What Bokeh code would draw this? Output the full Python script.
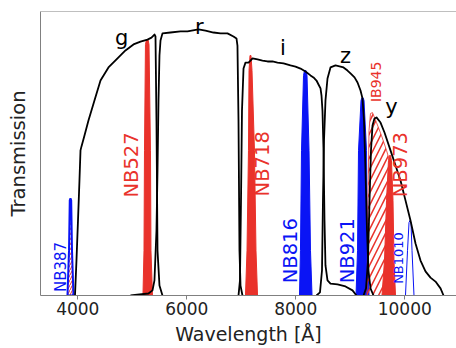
import math
from bokeh.plotting import figure
from bokeh.models import Range1d, Label, Span, FixedTicker
from bokeh.embed import file_html
from bokeh.resources import INLINE

# ---- broad-band transmission curves (wavelength in Angstrom, transmission) ----
g_wl = [3949, 3976, 4004, 4031, 4050, 4068, 4123, 4196, 4306, 4417, 4563, 4729,
        4875, 5022, 5151, 5279, 5352, 5407, 5426, 5444, 5463, 5499, 5554]
g_tr = [0, 0.123, 0.264, 0.405, 0.511, 0.525, 0.563, 0.616, 0.687, 0.757, 0.803, 0.835,
        0.863, 0.884, 0.894, 0.901, 0.908, 0.919, 0.912, 0.616, 0.158, 0.035, 0]

r_wl = [4967, 5297, 5371, 5407, 5444, 5463, 5481, 5499, 5518, 5554, 5701, 5885, 6013,
        6215, 6343, 6490, 6619, 6747, 6857, 6912, 6930, 6949, 6967, 6986, 7022]
r_tr = [0, 0.007, 0.018, 0.053, 0.229, 0.440, 0.687, 0.845, 0.898, 0.923, 0.926, 0.930, 0.930,
        0.937, 0.933, 0.926, 0.923, 0.923, 0.912, 0.905, 0.880, 0.616, 0.158, 0.035, 0]

i_wl = [6949, 6976, 6995, 7013, 7041, 7077, 7132, 7169, 7206, 7298, 7389, 7481, 7573, 7665,
        7775, 7903, 7995, 8087, 8178, 8270, 8325, 8380, 8417, 8454, 8472, 8490, 8509, 8527,
        8545, 8582, 8637, 8766, 8912, 9041, 9114]
i_tr = [0, 0.053, 0.335, 0.651, 0.799, 0.820, 0.820, 0.827, 0.835, 0.831, 0.827, 0.824, 0.824, 0.820,
        0.817, 0.810, 0.806, 0.799, 0.789, 0.775, 0.768, 0.757, 0.743, 0.729, 0.704, 0.651, 0.511, 0.264,
        0.106, 0.053, 0.042, 0.039, 0.032, 0.018, 0]

z_wl = [8380, 8444, 8481, 8499, 8518, 8545, 8582, 8637, 8729, 8821, 8876, 8949, 9004, 9078,
        9133, 9188, 9224, 9252, 9279, 9307, 9334, 9371, 9426]
z_tr = [0, 0.011, 0.088, 0.335, 0.546, 0.687, 0.764, 0.803, 0.810, 0.806, 0.803, 0.792, 0.782, 0.768,
        0.750, 0.722, 0.694, 0.616, 0.440, 0.229, 0.088, 0.025, 0]

y_wl = [9243, 9289, 9325, 9353, 9380, 9408, 9444, 9481, 9555, 9628, 9738, 9830, 9922, 10013,
        10105, 10197, 10289, 10380, 10472, 10564, 10656, 10711]
y_tr = [0, 0.025, 0.123, 0.335, 0.511, 0.599, 0.623, 0.627, 0.609, 0.574, 0.511, 0.458, 0.405, 0.335,
        0.264, 0.183, 0.123, 0.085, 0.063, 0.049, 0.025, 0]

# ---- narrow / intermediate band filters ----
nb387_wl = [3811, 3839, 3853, 3866, 3879, 3894, 3921]
nb387_tr = [0, 0.158, 0.335, 0.342, 0.335, 0.158, 0]
nb527_wl = [5196, 5215, 5224, 5242, 5261, 5288, 5307, 5334, 5343, 5371]
nb527_tr = [0, 0.158, 0.511, 0.884, 0.901, 0.901, 0.884, 0.511, 0.158, 0]
nb718_wl = [7077, 7105, 7132, 7142, 7160, 7178, 7197, 7242, 7270, 7298]
nb718_tr = [0, 0.158, 0.511, 0.792, 0.845, 0.845, 0.792, 0.511, 0.158, 0]
nb816_wl = [8068, 8086, 8105, 8142, 8160, 8188, 8206, 8243, 8270, 8298]
nb816_tr = [0, 0.158, 0.511, 0.775, 0.792, 0.792, 0.775, 0.511, 0.158, 0]
nb921_wl = [9105, 9133, 9151, 9197, 9215, 9233, 9252, 9298, 9316, 9344]
nb921_tr = [0, 0.158, 0.511, 0.687, 0.697, 0.697, 0.687, 0.511, 0.158, 0]
nb973_wl = [9582, 9628, 9665, 9701, 9720, 9738, 9756, 9784, 9802, 9830]
nb973_tr = [0, 0.123, 0.335, 0.475, 0.493, 0.493, 0.475, 0.335, 0.123, 0]
nb1010_wl = [10013, 10050, 10078, 10096, 10114, 10133, 10169]
nb1010_tr = [0, 0.158, 0.257, 0.264, 0.257, 0.158, 0]
ib945_wl = [9307, 9325, 9344, 9371, 9408, 9481, 9573, 9665, 9720, 9738, 9747, 9766]
ib945_tr = [0, 0.335, 0.581, 0.641, 0.644, 0.609, 0.563, 0.511, 0.475, 0.335, 0.123, 0]

x_ticks = [4000, 6000, 8000, 10000]
x_title = "Wavelength [Å]"
y_title = "Transmission"

# labels: text, wavelength, transmission
broad_names = ["g", "r", "i", "z", "y"]
broad_lab_wl = [4804, 6229, 7765, 8912, 9756]
broad_lab_tr = [0.908, 0.944, 0.873, 0.845, 0.665]

nb_names = ["NB387", "NB527", "NB718", "NB816", "NB921", "IB945", "NB973", "NB1010"]
nb_lab_wl = [3701, 4982, 7384, 7903, 8944, 9463, 9922, 9876]
nb_lab_tr = [0.012, 0.345, 0.349, 0.043, 0.043, 0.681, 0.346, 0.041]

RED = "#e9322b"
BLUE = "#0a14f5"
GRAY = "#808080"
FONT = "DejaVu Sans"
XMIN, XMAX = 3316, 10949

p = figure(width=456, height=348, output_backend="svg", toolbar_location=None,
           x_range=Range1d(XMIN, XMAX), y_range=Range1d(0, 1),
           min_border_left=40, min_border_right=0, min_border_top=11, min_border_bottom=53)
p.outline_line_color = None
p.grid.visible = False
p.background_fill_color = "white"
p.border_fill_color = "white"

# x axis
p.xaxis.ticker = FixedTicker(ticks=x_ticks)
p.xaxis.axis_label = x_title
p.xaxis.axis_line_color = GRAY
p.xaxis.major_tick_line_color = GRAY
p.xaxis.major_tick_in = 0
p.xaxis.major_tick_out = 4
p.xaxis.minor_tick_line_color = None
p.xaxis.major_label_text_font = FONT
p.xaxis.major_label_text_font_size = "17px"
p.xaxis.major_label_text_color = "#222222"
p.xaxis.major_label_standoff = 2
p.xaxis.axis_label_text_font = FONT
p.xaxis.axis_label_text_font_size = "19px"
p.xaxis.axis_label_text_font_style = "normal"
p.xaxis.axis_label_text_color = "#222222"
p.xaxis.axis_label_standoff = 5

# y axis
p.yaxis.ticker = FixedTicker(ticks=[])
p.yaxis.axis_label = y_title
p.yaxis.axis_line_color = GRAY
p.yaxis.major_tick_line_color = None
p.yaxis.minor_tick_line_color = None
p.yaxis.axis_label_text_font = FONT
p.yaxis.axis_label_text_font_size = "19.5px"
p.yaxis.axis_label_text_font_style = "normal"
p.yaxis.axis_label_text_color = "#222222"
p.yaxis.axis_label_standoff = 11

p.add_layout(Span(location=1, dimension="width", line_color=GRAY, line_width=1))

# narrow bands
p.patch(nb387_wl, nb387_tr, fill_color=None, line_color=BLUE, line_width=2,
        hatch_pattern="/", hatch_color=RED, hatch_scale=5, hatch_weight=1)
for wl, tr, c in [(nb527_wl, nb527_tr, RED), (nb718_wl, nb718_tr, RED),
                  (nb816_wl, nb816_tr, BLUE), (nb921_wl, nb921_tr, BLUE),
                  (nb973_wl, nb973_tr, RED)]:
    p.patch(wl, tr, fill_color=c, line_color=c, line_width=1)
p.patch(ib945_wl, ib945_tr, fill_color=None, line_color=RED, line_width=0.8,
        hatch_pattern="/", hatch_color=RED, hatch_scale=12, hatch_weight=1.5)
p.line(nb1010_wl, nb1010_tr, line_color=BLUE, line_width=1)

# broad bands
for wl, tr in [(g_wl, g_tr), (r_wl, r_tr), (i_wl, i_tr), (z_wl, z_tr), (y_wl, y_tr)]:
    p.line(wl, tr, line_color="black", line_width=1.8, line_join="round")

for name, x, y in zip(broad_names, broad_lab_wl, broad_lab_tr):
    p.add_layout(Label(x=x, y=y, text=name, text_font=FONT, text_font_size="21px",
                       text_color="black", text_align="center", text_baseline="alphabetic"))

nb_colors = [BLUE, RED, RED, BLUE, BLUE, RED, RED, BLUE]
nb_sizes = ["15px", "19.5px", "19.5px", "19.5px", "19.5px", "14px", "19.5px", "13px"]
for name, x, y, c, s in zip(nb_names, nb_lab_wl, nb_lab_tr, nb_colors, nb_sizes):
    p.add_layout(Label(x=x, y=y, text=name, text_font=FONT, text_font_size=s,
                       text_color=c, angle=math.pi / 2, text_align="left",
                       text_baseline="middle"))

open("out.html", "w").write(file_html(p, INLINE))
